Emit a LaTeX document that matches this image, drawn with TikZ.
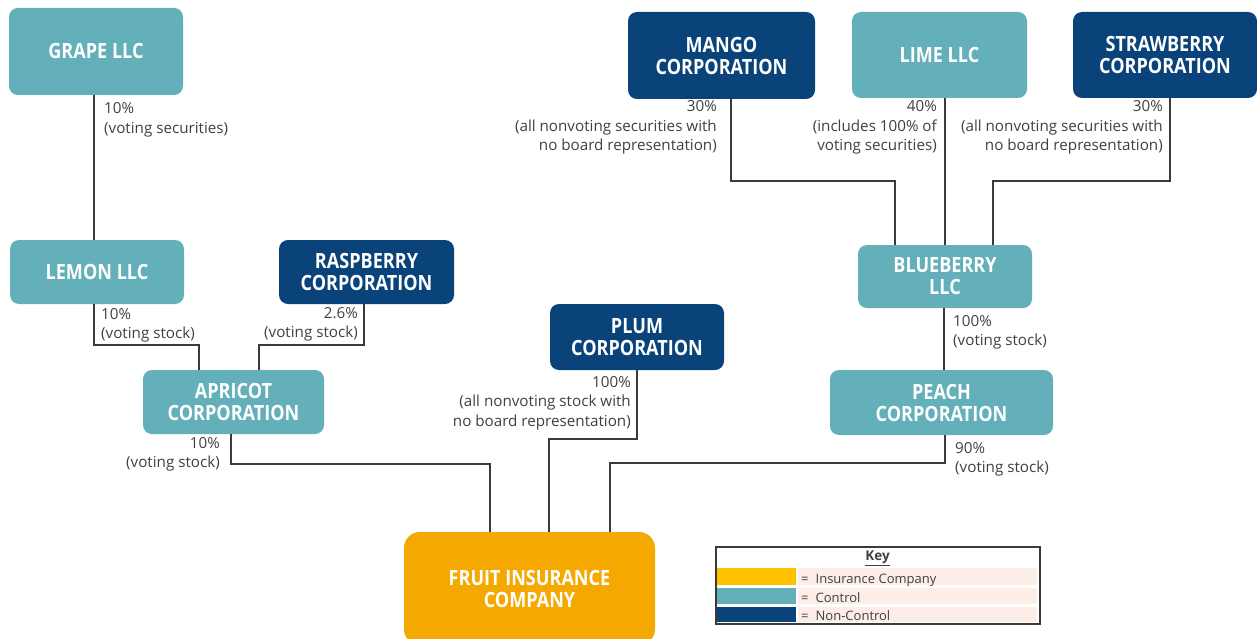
\documentclass[tikz,border=0pt]{standalone}
\usepackage{fontspec}
\setmainfont{Open Sans}
\newfontfamily\titlefont{Open Sans}[FakeStretch=0.86]
\usetikzlibrary{calc}
\definecolor{ctrl}{HTML}{63AFBA}
\definecolor{nonctrl}{HTML}{0A437A}
\definecolor{ins}{HTML}{F5A800}
\definecolor{keyins}{HTML}{FFC000}
\definecolor{peachbg}{HTML}{FCEEE6}
\definecolor{txt}{HTML}{404040}
\definecolor{linec}{HTML}{3A3A3A}
\begin{document}
\begin{tikzpicture}[x=1pt,y=-1pt,
  box/.style={rectangle, rounded corners=9pt, text=white, align=center, inner sep=0pt,
    font=\titlefont\bfseries\fontsize{21}{22}\selectfont},
  ctl/.style={box, fill=ctrl},
  nct/.style={box, fill=nonctrl},
  lbl/.style={font=\fontsize{15.2}{19.5}\selectfont, text=txt, inner sep=0pt},
  conn/.style={draw=linec, line width=1.6pt},
  keytxt/.style={font=\fontsize{13}{15}\selectfont, text=txt, inner sep=0pt, anchor=base west}]
\useasboundingbox (0,0) rectangle (1257,639);

% nodes
\node[ctl, minimum width=174pt, minimum height=87pt] (grape) at (96,51.5) {GRAPE LLC};
\node[ctl, minimum width=174pt, minimum height=64pt] (lemon) at (97,272) {LEMON LLC};
\node[nct, minimum width=175pt, minimum height=64pt] (rasp) at (366.5,272) {RASPBERRY\\CORPORATION};
\node[ctl, minimum width=181pt, minimum height=64pt] (apricot) at (233.5,402) {APRICOT\\CORPORATION};
\node[nct, minimum width=174pt, minimum height=66pt] (plum) at (637,337) {PLUM\\CORPORATION};
\node[nct, minimum width=187pt, minimum height=87pt] (mango) at (721.5,55.5) {MANGO\\CORPORATION};
\node[ctl, minimum width=175pt, minimum height=86pt] (lime) at (939.5,55) {LIME LLC};
\node[nct, minimum width=184pt, minimum height=86pt] (straw) at (1165,55) {STRAWBERRY\\CORPORATION};
\node[ctl, minimum width=174pt, minimum height=63pt] (blue) at (945,276.5) {BLUEBERRY\\LLC};
\node[ctl, minimum width=223pt, minimum height=65pt] (peach) at (941.5,402.5) {PEACH\\CORPORATION};
\node[box, fill=ins, rounded corners=16pt, minimum width=251pt, minimum height=113pt] (fruit) at (529.5,588.5) {FRUIT INSURANCE\\COMPANY};

% connectors
\draw[conn] ([xshift=-2pt]grape.south) -- ([xshift=-2pt]grape.south |- lemon.north);
\draw[conn] ([xshift=-3pt]lemon.south) -- ++(0,41) -| ([xshift=-34.5pt]apricot.north);
\draw[conn] ([xshift=-2.5pt]rasp.south) -- ++(0,41) -| ([xshift=25.5pt]apricot.north);
\draw[conn] ([xshift=-2.5pt]apricot.south) -- ++(0,30) -| ([xshift=-39.5pt]fruit.north);
\draw[conn] (plum.south) -- ++(0,69) -| ([xshift=19.5pt]fruit.north);
\draw[conn] ([xshift=3.5pt]peach.south) -- ++(0,28) -| ([xshift=80.5pt]fruit.north);
\draw[conn] ([xshift=-1pt]blue.south) -- ([xshift=-1pt]blue.south |- peach.north);
\draw[conn] ([xshift=9.5pt]mango.south) -- ++(0,82) -| ([xshift=-50pt]blue.north);
\draw[conn] ([xshift=5.5pt]lime.south) -- ([xshift=5.5pt]lime.south |- blue.north);
\draw[conn] ([xshift=5pt]straw.south) -- ++(0,83) -| ([xshift=48pt]blue.north);

% labels (base anchor = baseline of the last line)
\node[lbl, anchor=base west, align=left] (l1) at (104,133.5) {10\%\\(voting securities)};
\node[lbl, anchor=base west, align=left] (l2) at (101,338.5) {10\%\\(voting stock)};
\node[lbl, anchor=base east, align=right] (l3) at (358,337.5) {2.6\%\\(voting stock)};
\node[lbl, anchor=base east, align=right] (l4) at (220,467.5) {10\%\\(voting stock)};
\node[lbl, anchor=base east, align=right] (l5) at (631,426) {100\%\\(all nonvoting stock with\\no board representation)};
\node[lbl, anchor=base west, align=left] (l6) at (955,472.5) {90\%\\(voting stock)};
\node[lbl, anchor=base west, align=left] (l7) at (953,345.5) {100\%\\(voting stock)};
\node[lbl, anchor=base east, align=right] (l8) at (717,151) {30\%\\(all nonvoting securities with\\no board representation)};
\node[lbl, anchor=base east, align=right] (l9) at (937,151) {40\%\\(includes 100\% of\\voting securities)};
\node[lbl, anchor=base east, align=right] (l10) at (1163,151) {30\%\\(all nonvoting securities with\\no board representation)};

% key
\node[draw=linec, line width=2pt, fill=white, minimum width=324pt, minimum height=77pt, inner sep=0pt] (key) at (877.5,585) {};
\node[font=\bfseries\fontsize{13.5}{15}\selectfont, text=txt, inner sep=0pt] (keyh) at (877.5,558) {\underline{Key}};
\node[fill=keyins, minimum width=79pt, minimum height=17pt, inner sep=0pt] (k1) at (756.5,576.5) {};
\node[fill=ctrl, minimum width=79pt, minimum height=16pt, inner sep=0pt] (k2) at (756.5,596) {};
\node[fill=nonctrl, minimum width=79pt, minimum height=15pt, inner sep=0pt] (k3) at (756.5,614.5) {};
\node[fill=peachbg, minimum width=239pt, minimum height=17pt, inner sep=0pt] (b1) at (917.5,576.5) {};
\node[fill=peachbg, minimum width=239pt, minimum height=16pt, inner sep=0pt] (b2) at (917.5,596) {};
\node[fill=peachbg, minimum width=239pt, minimum height=15pt, inner sep=0pt] (b3) at (917.5,614.5) {};
\node[keytxt] (t1) at (801,583) {=\hspace{7pt}Insurance Company};
\node[keytxt] (t2) at (801,602.5) {=\hspace{7pt}Control};
\node[keytxt] (t3) at (801,620) {=\hspace{7pt}Non-Control};
\end{tikzpicture}
\end{document}
